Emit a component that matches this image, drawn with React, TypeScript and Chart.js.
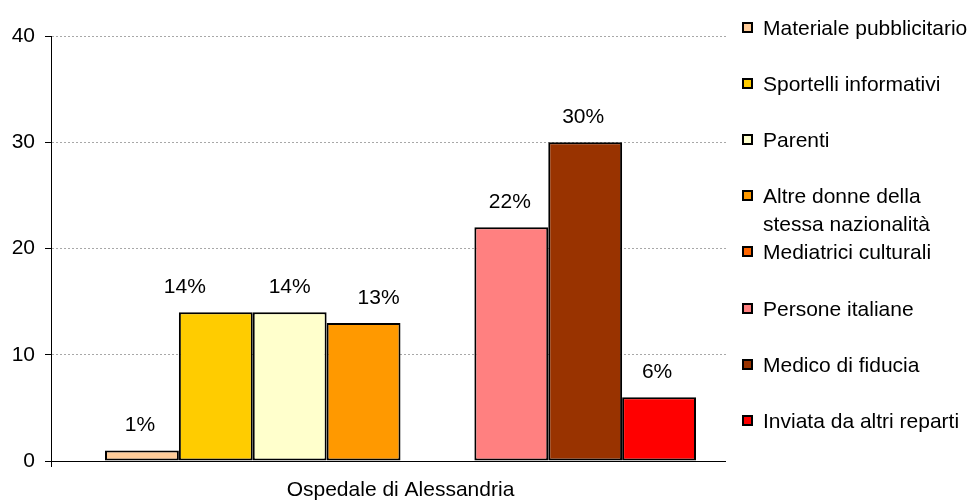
import React, { useEffect, useRef } from "react";
import { Chart, registerables } from "chart.js";

Chart.register(...registerables);

const categories = ["Ospedale di Alessandria"];
const seriesNames = [
  "Materiale pubblicitario",
  "Sportelli informativi",
  "Parenti",
  "Altre donne della\nstessa nazionalità",
  "Mediatrici culturali",
  "Persone italiane",
  "Medico di fiducia",
  "Inviata da altri reparti",
];
const seriesValues = [1, 14, 14, 13, 0, 22, 30, 6];
const seriesColors = [
  "#FFCC99",
  "#FFCC00",
  "#FFFFCC",
  "#FF9900",
  "#FF6600",
  "#FF8080",
  "#993300",
  "#FF0000",
];
const yTickValues = [0, 10, 20, 30, 40];
// horizontal nudges of value labels (style only, as in the original layout)
const labelNudge = [-2, -31, 0, 15, 0, -1.5, -2, -2];

const FONT = '"Liberation Sans", Arial, sans-serif';
const FONT_SIZE = 21;

const maskPlugin = {
  id: "rightMask",
  beforeDatasetsDraw(chart: any) {
    const { ctx, chartArea } = chart;
    ctx.save();
    ctx.fillStyle = "#ffffff";
    ctx.fillRect(chartArea.right - 24, chartArea.top - 3, 30, chartArea.bottom - chartArea.top + 12);
    ctx.restore();
  },
};

const labelPlugin = {
  id: "valueLabels",
  afterDatasetsDraw(chart: any) {
    const { ctx } = chart;
    ctx.save();
    ctx.font = `${FONT_SIZE}px ${FONT}`;
    ctx.fillStyle = "#000";
    ctx.textAlign = "center";
    ctx.textBaseline = "alphabetic";
    chart.data.datasets.forEach((ds: any, di: number) => {
      const meta = chart.getDatasetMeta(di);
      meta.data.forEach((el: any, i: number) => {
        const v = ds.data[i];
        if (!v) return;
        ctx.fillText(`${v}%`, el.x + labelNudge[di], el.y - 19);
      });
    });
    ctx.restore();
  },
};

export default function App() {
  const ref = useRef<HTMLCanvasElement | null>(null);

  useEffect(() => {
    if (!ref.current) return;
    const chart = new Chart(ref.current, {
      type: "bar",
      data: {
        labels: categories,
        datasets: seriesNames.map((name, i) => ({
          label: name,
          data: [seriesValues[i]],
          backgroundColor: seriesColors[i],
          borderColor: "#000",
          borderWidth: 2,
          borderSkipped: false,
          categoryPercentage: 0.8455,
          barPercentage: 1,
        })),
      },
      options: {
        animation: false,
        responsive: false,
        maintainAspectRatio: false,
        layout: { padding: { top: 36, right: 220, bottom: 0, left: 0 } },
        plugins: {
          legend: { display: false },
          tooltip: { enabled: false },
          title: { display: false },
        },
        scales: {
          x: {
            afterFit: (s: any) => {
              s.height = 41;
            },
            grid: {
              display: true,
              drawOnChartArea: false,
              drawTicks: true,
              tickLength: 6,
              tickColor: (c: any) => (c.index === 0 ? "#000" : "rgba(0,0,0,0)"),
              color: "rgba(0,0,0,0)",
            },
            border: { display: true, color: "#000", width: 1 },
            ticks: {
              color: "#000",
              padding: 11,
              font: { family: FONT, size: FONT_SIZE },
            },
          },
          y: {
            min: 0,
            max: 40,
            afterFit: (s: any) => {
              s.width = 51;
            },
            afterBuildTicks: (s: any) => {
              s.ticks = yTickValues.map((v) => ({ value: v }));
            },
            grid: {
              color: (c: any) => (c.tick && c.tick.value === 0 ? "rgba(0,0,0,0)" : "#a8a8a8"),
              lineWidth: 1,
              drawTicks: true,
              tickLength: 6,
              tickColor: "#000",
              tickBorderDash: [],
            },
            border: { display: true, color: "#000", width: 1, dash: [2, 2] },
            ticks: {
              color: "#000",
              padding: 10,
              stepSize: 10,
              font: { family: FONT, size: FONT_SIZE },
            },
          },
        },
      },
      plugins: [maskPlugin, labelPlugin],
    });
    return () => chart.destroy();
  }, []);

  return (
    <div style={{ position: "absolute", left: 0, top: 0, width: 970, height: 502, background: "#fff" }}>
      <canvas ref={ref} width={970} height={502} style={{ display: "block" }} />
      {seriesNames.map((name, i) => (
        <div
          key={name}
          style={{
            position: "absolute",
            left: 742,
            top: 14 + 56.1 * i,
            display: "flex",
            alignItems: "flex-start",
            fontFamily: FONT,
            fontSize: FONT_SIZE,
            lineHeight: "28px",
            color: "#000",
            whiteSpace: "nowrap",
          }}
        >
          <div
            style={{
              width: 11,
              height: 11,
              marginTop: 8,
              boxSizing: "border-box",
              border: "2px solid #000",
              background: seriesColors[i],
              flex: "none",
            }}
          />
          <div style={{ marginLeft: 10 }}>
            {name.split("\n").map((line) => (
              <div key={line}>{line}</div>
            ))}
          </div>
        </div>
      ))}
    </div>
  );
}
